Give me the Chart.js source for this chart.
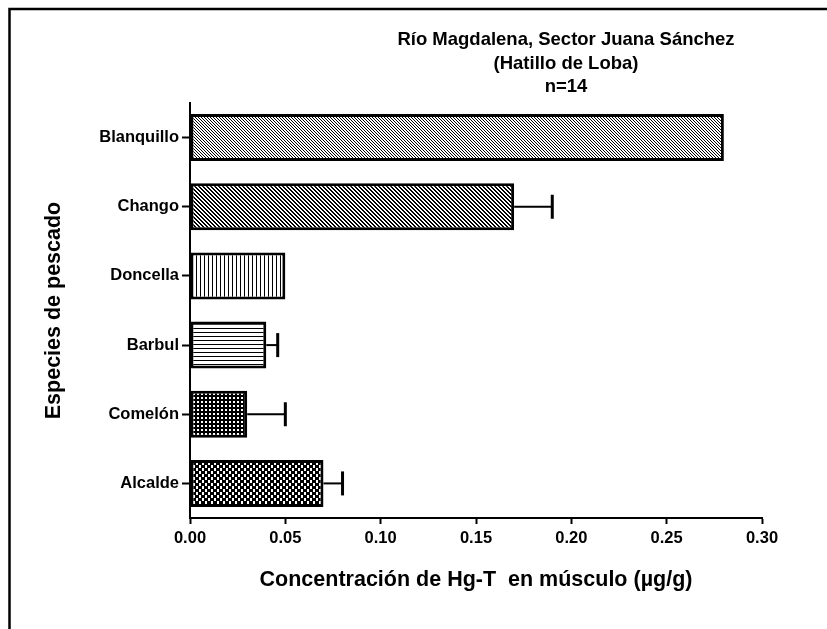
<!DOCTYPE html>
<html><head><meta charset="utf-8">
<script src="https://cdn.jsdelivr.net/npm/chart.js@4"></script>
<style>html,body{margin:0;padding:0;background:#fff}#wrap{width:827px;height:629px;position:relative}</style>
</head><body><div id="wrap"><canvas id="c" width="827" height="629"></canvas></div>
<script>
// ---- data ----
const titleLines = ['Río Magdalena, Sector Juana Sánchez', '(Hatillo de Loba)', 'n=14'];
const species = ['Blanquillo', 'Chango', 'Doncella', 'Barbul', 'Comelón', 'Alcalde'];
const meanHg = [0.28, 0.17, 0.05, 0.04, 0.03, 0.07];
const errHg = [0, 0.02, 0, 0.006, 0.02, 0.01];
const xTitle = 'Concentración de Hg-T  en músculo (µg/g)';
const yTitle = 'Especies de pescado';
const xMin = 0, xMax = 0.3, xStep = 0.05;

const FONT = '"Liberation Sans", Arial, sans-serif';
const canvas = document.getElementById('c');
const ctx = canvas.getContext('2d');

function pattern(size, draw) {
  const t = document.createElement('canvas');
  t.width = t.height = size;
  const g = t.getContext('2d');
  g.fillStyle = '#fff'; g.fillRect(0, 0, size, size);
  g.fillStyle = '#000';
  draw(g, size);
  return ctx.createPattern(t, 'repeat');
}
const pats = [
  pattern(3, (g, s) => { for (let i = 0; i < s; i++) { g.fillRect(i, i, 1, 1); } }),
  pattern(4, (g, s) => { for (let i = 0; i < s; i++) { g.fillRect(i, i, 1, 1); g.fillRect((i + 1) % s, i, 1, 1); } }),
  pattern(4, (g, s) => { g.fillRect(0, 0, 1, s); }),
  pattern(4, (g, s) => { g.fillRect(0, 0, s, 1); }),
  pattern(4, (g, s) => { g.fillRect(0, 0, s, s); g.fillStyle = '#fff'; g.fillRect(1, 1, 2, 2); }),
  pattern(6, (g, s) => { g.fillRect(0, 0, 3, 3); g.fillRect(3, 3, 3, 3); g.fillRect(3, 0, 1, 3); g.fillRect(0, 3, 1, 3); })
];

const framePlugin = {
  id: 'frame',
  beforeDraw(chart) {
    const c = chart.ctx;
    c.save();
    c.strokeStyle = '#000'; c.lineWidth = 2.5;
    c.beginPath();
    c.moveTo(9.5, 629); c.lineTo(9.5, 9); c.lineTo(827, 9);
    c.stroke();
    c.restore();
  }
};
const titlePlugin = {
  id: 'ttl',
  afterDraw(chart) {
    const c = chart.ctx;
    c.save();
    c.fillStyle = '#000';
    c.font = 'bold 18.5px ' + FONT;
    c.textAlign = 'center'; c.textBaseline = 'middle';
    const ys = [40, 63.5, 87];
    titleLines.forEach((t, i) => c.fillText(t, 566, ys[i]));
    c.restore();
  }
};
const errPlugin = {
  id: 'err',
  afterDatasetsDraw(chart) {
    const c = chart.ctx;
    const xs = chart.scales.x;
    const meta = chart.getDatasetMeta(0);
    c.save();
    c.strokeStyle = '#000';
    meanHg.forEach((v, i) => {
      if (!errHg[i]) return;
      const y = meta.data[i].y;
      const x0 = xs.getPixelForValue(v);
      const x1 = xs.getPixelForValue(v + errHg[i]);
      c.lineWidth = 2;
      c.beginPath(); c.moveTo(x0, y); c.lineTo(x1, y); c.stroke();
      c.lineWidth = 3;
      c.beginPath(); c.moveTo(x1, y - 12); c.lineTo(x1, y + 12); c.stroke();
    });
    c.restore();
  }
};

new Chart(ctx, {
  type: 'bar',
  data: {
    labels: species,
    datasets: [{
      data: meanHg,
      backgroundColor: pats,
      borderColor: '#000',
      borderWidth: 3,
      borderSkipped: false,
      categoryPercentage: 1,
      barPercentage: 0.68
    }]
  },
  options: {
    indexAxis: 'y',
    responsive: false,
    animation: false,
    devicePixelRatio: 1,
    layout: { padding: { top: 103, right: 65, left: 0, bottom: 0 } },
    plugins: { legend: { display: false }, tooltip: { enabled: false } },
    scales: {
      x: {
        type: 'linear', min: xMin, max: xMax,
        afterFit(s) { s.height = 111; },
        border: { display: true, color: '#000', width: 2 },
        grid: { display: true, drawOnChartArea: false, drawTicks: true, tickLength: 6, tickWidth: 2, tickColor: '#000' },
        ticks: { stepSize: xStep, color: '#000', padding: 5, font: { family: FONT, size: 16.5, weight: 'bold' },
          callback: v => Number(v).toFixed(2), maxRotation: 0, autoSkip: false },
        title: { display: true, text: xTitle, color: '#000', font: { family: FONT, size: 21.5, weight: 'bold' }, padding: { top: 0, bottom: 36 } }
      },
      y: {
        afterFit(s) { s.width = 190; },
        border: { display: true, color: '#000', width: 2 },
        grid: { display: true, offset: false, drawOnChartArea: false, drawTicks: true, tickLength: 8, tickWidth: 2, tickColor: '#000' },
        ticks: { color: '#000', padding: 3, font: { family: FONT, size: 16.5, weight: 'bold' }, autoSkip: false },
        title: { display: true, text: yTitle, color: '#000', font: { family: FONT, size: 21.5, weight: 'bold' }, padding: { top: 41, bottom: 0 } }
      }
    }
  },
  plugins: [framePlugin, titlePlugin, errPlugin]
});
</script>
</body></html>
